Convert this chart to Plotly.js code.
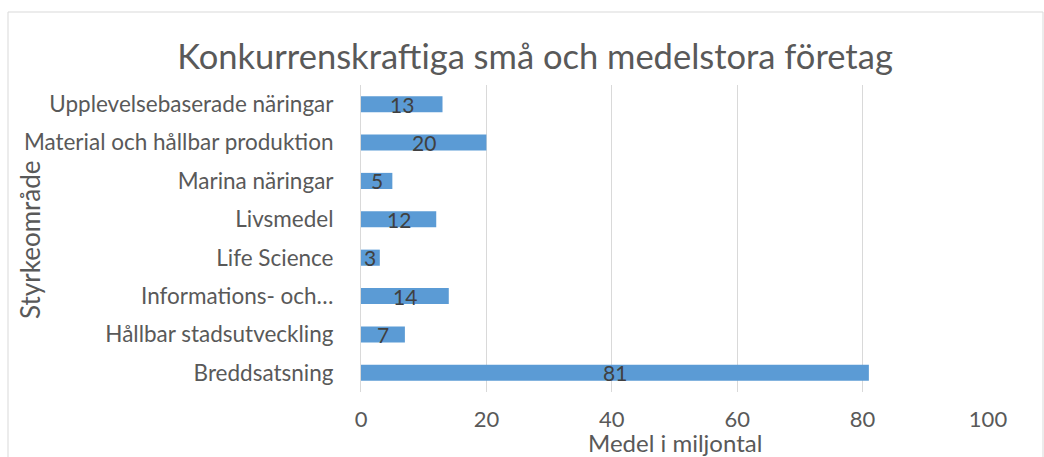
<!DOCTYPE html>
<html>
<head>
<meta charset="utf-8">
<script src="https://cdn.plot.ly/plotly-3.0.1.min.js"></script>
<style>
html,body{margin:0;padding:0;background:#fff;}
#chart{width:1044px;height:457px;}
</style>
</head>
<body>
<div id="chart"></div>
<script>
var categories = [
  "Breddsatsning",
  "Hållbar stadsutveckling",
  "Informations- och…",
  "Life Science",
  "Livsmedel",
  "Marina näringar",
  "Material och hållbar produktion",
  "Upplevelsebaserade näringar"
];
var values = [81, 7, 14, 3, 12, 5, 20, 13];
var xTicks = [0, 20, 40, 60, 80, 100];

var FONT = "Lato, 'Open Sans', sans-serif";
var TXT = "#595959";

var W = 1044, H = 457;
var L = 361, R = 988, T = 85, B = 392;
var pw = R - L, ph = B - T;

var bars = {
  type: "bar",
  orientation: "h",
  y: categories,
  x: values,
  marker: {color: "#5B9BD5"},
  width: 0.42,
  hoverinfo: "x+y",
  showlegend: false
};

var labelAnns = values.map(function(v, i){
  return {
    xref: "x", yref: "y",
    x: v / 2, y: categories[i],
    text: String(v),
    showarrow: false,
    xanchor: "center", yanchor: "middle",
    yshift: 0,
    font: {family: FONT, size: 21, color: "#404040"}
  };
});

var layout = {
  width: W, height: H,
  margin: {l: L, r: W - R, t: T, b: H - B},
  paper_bgcolor: "#ffffff",
  plot_bgcolor: "#ffffff",
  font: {family: FONT, color: TXT},
  title: {
    text: "Konkurrenskraftiga små och medelstora företag",
    font: {family: FONT, size: 34.5, color: TXT},
    x: 535 / W, xanchor: "center", xref: "container",
    y: 1 - 57 / H, yanchor: "middle", yref: "container"
  },
  xaxis: {
    range: [0, 100],
    tickvals: xTicks,
    ticktext: xTicks.map(String),
    showgrid: true,
    gridcolor: "#D9D9D9",
    gridwidth: 1,
    zeroline: false,
    showline: false,
    ticks: "",
    ticklabelstandoff: 12,
    tickfont: {family: FONT, size: 22, color: TXT},
    automargin: false,
    fixedrange: true
  },
  yaxis: {
    type: "category",
    categoryorder: "array",
    categoryarray: categories,
    showgrid: false,
    zeroline: false,
    showline: true,
    linecolor: "#D9D9D9",
    linewidth: 1,
    ticks: "",
    ticklabelstandoff: 22,
    tickfont: {family: FONT, size: 22.5, color: TXT},
    automargin: false,
    fixedrange: true
  },
  annotations: labelAnns.concat([{
    text: "Styrkeområde",
    textangle: -90,
    xref: "paper", yref: "paper",
    x: (30 - L) / pw, y: (B - 240) / ph,
    xanchor: "center", yanchor: "middle",
    showarrow: false,
    font: {family: FONT, size: 26, color: TXT}
  }, {
    text: "Medel i miljontal",
    xref: "paper", yref: "paper",
    x: 0.5, y: (B - 442) / ph,
    xanchor: "center", yanchor: "middle",
    showarrow: false,
    font: {family: FONT, size: 24, color: TXT}
  }]),
  shapes: [{
    type: "rect", xref: "paper", yref: "paper",
    x0: (8 - L) / pw, x1: (1043 - L) / pw,
    y0: (B - 470) / ph, y1: (B - 12) / ph,
    line: {color: "#D9D9D9", width: 1},
    fillcolor: "rgba(0,0,0,0)", layer: "below"
  }]
};

Plotly.newPlot("chart", [bars], layout, {displayModeBar: false, staticPlot: true});
</script>
</body>
</html>
